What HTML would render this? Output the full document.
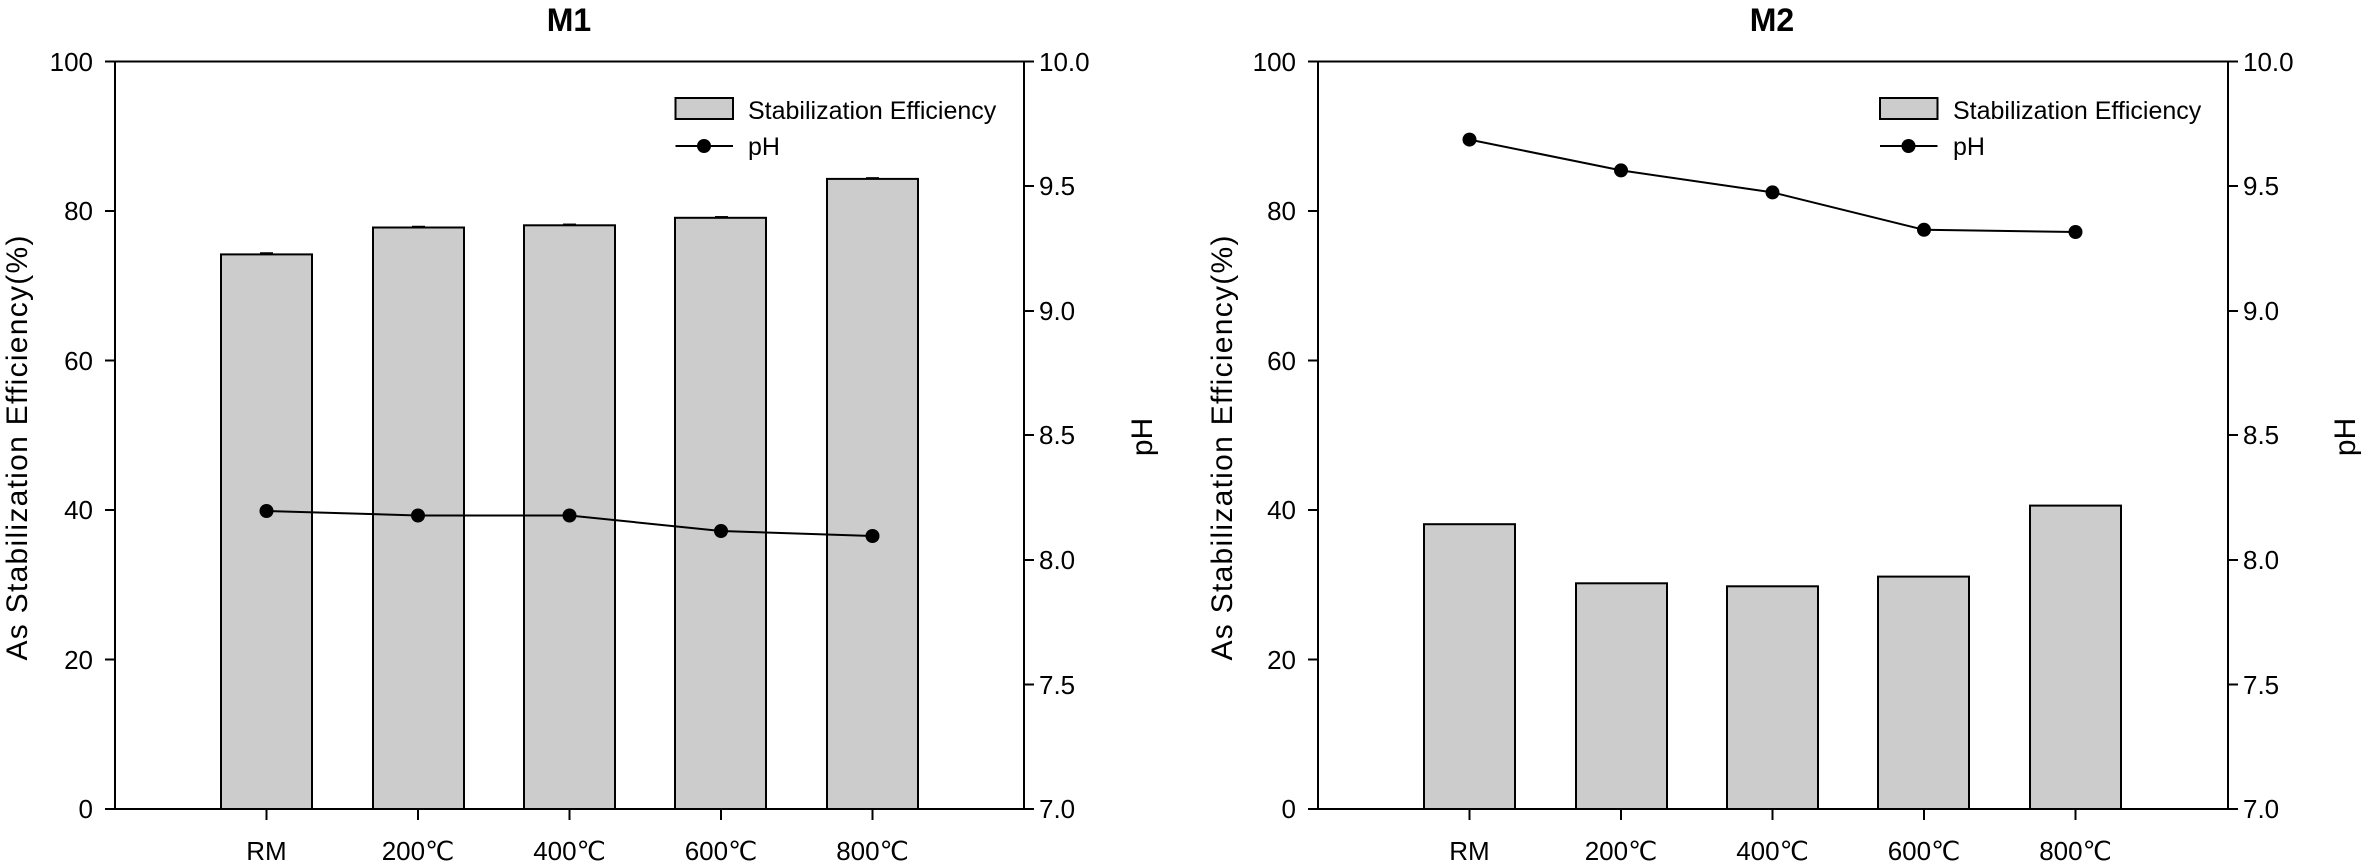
<!DOCTYPE html>
<html><head><meta charset="utf-8"><style>
html,body{margin:0;padding:0;background:#fff;}
svg{display:block}
text{font-family:"Liberation Sans Narrow","Liberation Sans",sans-serif;fill:#000}
.t{font-size:26px}
.ax{font-family:"Liberation Sans",sans-serif;font-size:30px}
.ti{font-size:32px;font-weight:bold}
.lg{font-size:25px}
</style></head><body>
<svg width="2362" height="862" viewBox="0 0 2362 862" xmlns="http://www.w3.org/2000/svg">
<g id="p1">
<text class="ti" x="569" y="31" text-anchor="middle">M1</text>
<g fill="#cccccc" stroke="#000" stroke-width="2">
<rect x="221" y="254.4" width="91" height="554.6"/>
<rect x="373" y="227.5" width="91" height="581.5"/>
<rect x="524" y="225.3" width="91" height="583.7"/>
<rect x="675" y="217.8" width="91" height="591.2"/>
<rect x="827" y="178.9" width="91" height="630.1"/>
</g>
<g stroke="#000" stroke-width="1.5">
<line x1="260" y1="253" x2="273" y2="253"/><line x1="412" y1="226.5" x2="425" y2="226.5"/>
<line x1="563" y1="224.3" x2="576" y2="224.3"/><line x1="715" y1="216.8" x2="728" y2="216.8"/>
<line x1="866" y1="177.9" x2="879" y2="177.9"/>
</g>
<rect x="115" y="61.5" width="909" height="747.5" fill="none" stroke="#000" stroke-width="2"/>
<g stroke="#000" stroke-width="2">
<line x1="105" y1="61.5" x2="115" y2="61.5"/><line x1="105" y1="211" x2="115" y2="211"/>
<line x1="105" y1="360.5" x2="115" y2="360.5"/><line x1="105" y1="510" x2="115" y2="510"/>
<line x1="105" y1="659.5" x2="115" y2="659.5"/><line x1="105" y1="809" x2="115" y2="809"/>
<line x1="1024" y1="61.5" x2="1034" y2="61.5"/><line x1="1024" y1="186" x2="1034" y2="186"/>
<line x1="1024" y1="311" x2="1034" y2="311"/><line x1="1024" y1="435" x2="1034" y2="435"/>
<line x1="1024" y1="560" x2="1034" y2="560"/><line x1="1024" y1="684.5" x2="1034" y2="684.5"/>
<line x1="1024" y1="809" x2="1034" y2="809"/>
<line x1="266.5" y1="809" x2="266.5" y2="820"/><line x1="418" y1="809" x2="418" y2="820"/>
<line x1="569.5" y1="809" x2="569.5" y2="820"/><line x1="721" y1="809" x2="721" y2="820"/>
<line x1="872.5" y1="809" x2="872.5" y2="820"/>
</g>
<g class="t" text-anchor="end">
<text x="93" y="71">100</text><text x="93" y="220">80</text><text x="93" y="370">60</text>
<text x="93" y="519">40</text><text x="93" y="669">20</text><text x="93" y="818">0</text>
</g>
<g class="t">
<text x="1039" y="71">10.0</text><text x="1039" y="195">9.5</text><text x="1039" y="320">9.0</text>
<text x="1039" y="444">8.5</text><text x="1039" y="569">8.0</text><text x="1039" y="694">7.5</text>
<text x="1039" y="818">7.0</text>
</g>
<g class="t" text-anchor="middle">
<text x="266.5" y="860">RM</text><text x="418" y="860">200℃</text><text x="569.5" y="860">400℃</text>
<text x="721" y="860">600℃</text><text x="872.5" y="860">800℃</text>
</g>
<text class="ax" transform="translate(27,448) rotate(-90)" text-anchor="middle" textLength="425" lengthAdjust="spacing">As Stabilization Efficiency(%)</text>
<text class="ax" transform="translate(1152,437) rotate(-90)" text-anchor="middle">pH</text>
<polyline fill="none" stroke="#000" stroke-width="2" points="266.5,511 418,515.5 569.5,515.5 721,531 872.5,536"/>
<g fill="#000"><circle cx="266.5" cy="511" r="7"/><circle cx="418" cy="515.5" r="7"/><circle cx="569.5" cy="515.5" r="7"/><circle cx="721" cy="531" r="7"/><circle cx="872.5" cy="536" r="7"/></g>
<rect x="675.5" y="98" width="57.5" height="21" fill="#cccccc" stroke="#000" stroke-width="2"/>
<text class="lg" x="748" y="119">Stabilization Efficiency</text>
<line x1="675.5" y1="146" x2="733" y2="146" stroke="#000" stroke-width="2"/><circle cx="704" cy="146" r="7"/>
<text class="lg" x="748" y="155">pH</text>
</g>
<g transform="translate(1203,0)">
<text class="ti" x="569" y="31" text-anchor="middle">M2</text>
<g fill="#cccccc" stroke="#000" stroke-width="2">
<rect x="221" y="524.2" width="91" height="284.8"/>
<rect x="373" y="583.3" width="91" height="225.7"/>
<rect x="524" y="586.3" width="91" height="222.7"/>
<rect x="675" y="576.6" width="91" height="232.4"/>
<rect x="827" y="505.6" width="91" height="303.4"/>
</g>
<rect x="115" y="61.5" width="910" height="747.5" fill="none" stroke="#000" stroke-width="2"/>
<g stroke="#000" stroke-width="2">
<line x1="105" y1="61.5" x2="115" y2="61.5"/><line x1="105" y1="211" x2="115" y2="211"/>
<line x1="105" y1="360.5" x2="115" y2="360.5"/><line x1="105" y1="510" x2="115" y2="510"/>
<line x1="105" y1="659.5" x2="115" y2="659.5"/><line x1="105" y1="809" x2="115" y2="809"/>
<line x1="1025" y1="61.5" x2="1035" y2="61.5"/><line x1="1025" y1="186" x2="1035" y2="186"/>
<line x1="1025" y1="311" x2="1035" y2="311"/><line x1="1025" y1="435" x2="1035" y2="435"/>
<line x1="1025" y1="560" x2="1035" y2="560"/><line x1="1025" y1="684.5" x2="1035" y2="684.5"/>
<line x1="1025" y1="809" x2="1035" y2="809"/>
<line x1="266.5" y1="809" x2="266.5" y2="820"/><line x1="418" y1="809" x2="418" y2="820"/>
<line x1="569.5" y1="809" x2="569.5" y2="820"/><line x1="721" y1="809" x2="721" y2="820"/>
<line x1="872.5" y1="809" x2="872.5" y2="820"/>
</g>
<g class="t" text-anchor="end">
<text x="93" y="71">100</text><text x="93" y="220">80</text><text x="93" y="370">60</text>
<text x="93" y="519">40</text><text x="93" y="669">20</text><text x="93" y="818">0</text>
</g>
<g class="t">
<text x="1040" y="71">10.0</text><text x="1040" y="195">9.5</text><text x="1040" y="320">9.0</text>
<text x="1040" y="444">8.5</text><text x="1040" y="569">8.0</text><text x="1040" y="694">7.5</text>
<text x="1040" y="818">7.0</text>
</g>
<g class="t" text-anchor="middle">
<text x="266.5" y="860">RM</text><text x="418" y="860">200℃</text><text x="569.5" y="860">400℃</text>
<text x="721" y="860">600℃</text><text x="872.5" y="860">800℃</text>
</g>
<text class="ax" transform="translate(29,448) rotate(-90)" text-anchor="middle" textLength="425" lengthAdjust="spacing">As Stabilization Efficiency(%)</text>
<text class="ax" transform="translate(1152,437) rotate(-90)" text-anchor="middle">pH</text>
<polyline fill="none" stroke="#000" stroke-width="2" points="266.5,139.6 418,170.4 569.5,192.4 721,229.8 872.5,232"/>
<g fill="#000"><circle cx="266.5" cy="139.6" r="7"/><circle cx="418" cy="170.4" r="7"/><circle cx="569.5" cy="192.4" r="7"/><circle cx="721" cy="229.8" r="7"/><circle cx="872.5" cy="232" r="7"/></g>
<rect x="677" y="98" width="57.5" height="21" fill="#cccccc" stroke="#000" stroke-width="2"/>
<text class="lg" x="750" y="119">Stabilization Efficiency</text>
<line x1="677" y1="146" x2="734.5" y2="146" stroke="#000" stroke-width="2"/><circle cx="705.5" cy="146" r="7"/>
<text class="lg" x="750" y="155">pH</text>
</g>
</svg>
</body></html>
